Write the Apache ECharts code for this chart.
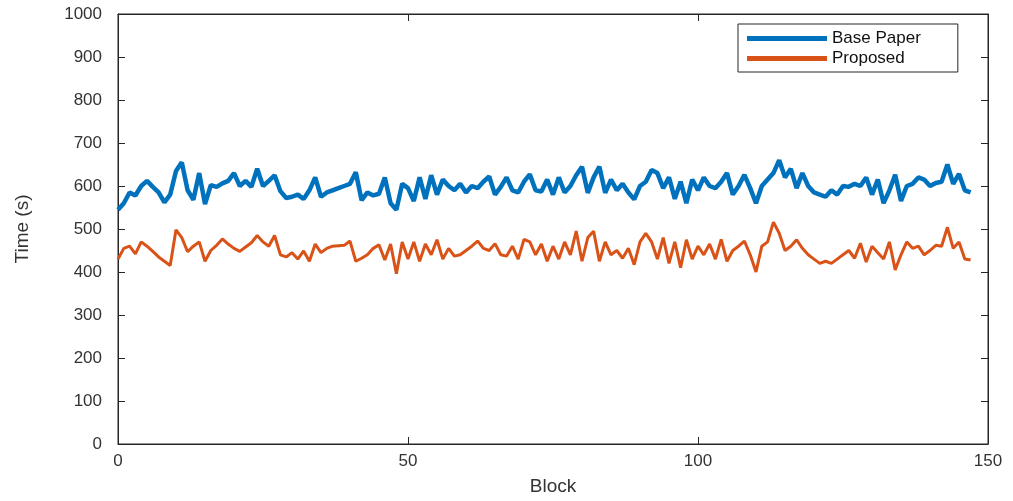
<!DOCTYPE html>
<html><head><meta charset="utf-8">
<script src="https://cdn.jsdelivr.net/npm/echarts@6/dist/echarts.min.js"></script>
<style>html,body{margin:0;padding:0;background:#fff}#c{width:1013px;height:501px}</style>
</head><body><div id="c"></div>
<script>
const blocks = Array.from({length:148},(_, i)=>i);
const basePaper = [545,560,585,578,600,612,598,585,562,580,635,655,590,568,630,558,602,598,606,612,
630,600,612,598,640,600,612,625,588,572,575,580,570,590,620,575,585,590,595,600,
605,632,567,585,578,582,620,560,545,605,595,565,620,570,625,580,615,600,590,605,
585,600,595,610,622,580,598,620,590,585,610,627,590,587,615,580,620,585,600,625,
645,584,620,645,584,615,590,605,585,569,600,610,637,630,595,620,570,610,560,615,
590,620,600,595,610,630,580,600,626,595,560,600,615,630,660,620,640,595,630,600,
585,580,575,590,580,600,598,605,600,620,580,615,560,590,626,565,600,605,620,615,
600,607,610,650,605,628,590,585];
const proposed = [430,455,460,442,470,460,448,435,425,415,498,480,447,460,470,425,450,462,477,465,
455,448,458,468,485,470,460,485,440,435,445,430,449,425,465,445,455,460,461,462,
472,425,432,440,455,463,428,465,396,470,430,470,425,465,440,475,430,455,437,440,
450,460,472,455,450,466,440,437,460,430,476,470,440,465,425,460,430,470,440,495,
425,480,495,425,470,440,450,432,455,417,470,490,470,430,480,420,470,410,475,430,
460,440,465,430,476,425,450,460,472,440,400,460,470,516,490,450,460,475,455,440,
430,420,425,420,430,440,450,432,467,423,460,445,430,470,405,440,470,455,460,440,
450,462,460,504,455,470,430,428];
const seriesNames = ['Base Paper','Proposed'];
const xTicks = {min:0,max:150,interval:50};
const yTicks = {min:0,max:1000,interval:100};

const font = 'Liberation Sans, Arial, sans-serif';
function axisLine(){return {show:true,onZero:false,lineStyle:{color:'#262626',width:1}};}
function tick(){return {show:true,inside:true,length:7,lineStyle:{color:'#262626',width:1}};}
function lbl(m){return {show:true,margin:m,color:'#333',fontSize:17,fontFamily:font,formatter:v=>String(v)};}
const chart = echarts.init(document.getElementById('c'));
chart.setOption({
  animation:false,
  backgroundColor:'#fff',
  grid:{left:118,right:25,top:14,bottom:47,containLabel:false,show:true,borderColor:'#262626',borderWidth:1},
  legend:{
    orient:'vertical',left:738,top:24,
    data:seriesNames,itemWidth:80,itemHeight:5,itemGap:3,
    borderColor:'#262626',borderWidth:1,padding:[6,37,5,9],
    textStyle:{fontSize:17,fontFamily:font,color:'#111'},
    icon:'rect'
  },
  xAxis:[{type:'value',min:xTicks.min,max:xTicks.max,interval:xTicks.interval,
    name:'Block',nameLocation:'middle',nameGap:33,nameTextStyle:{fontSize:19,fontFamily:font,color:'#333'},
    axisLine:axisLine(),axisTick:tick(),axisLabel:lbl(9),splitLine:{show:false}},
    {type:'value',position:'top',min:xTicks.min,max:xTicks.max,interval:xTicks.interval,
    axisLine:axisLine(),axisTick:tick(),axisLabel:{show:false},splitLine:{show:false}}],
  yAxis:[{type:'value',min:yTicks.min,max:yTicks.max,interval:yTicks.interval,
    name:'Time (s)',nameLocation:'middle',nameGap:86,nameTextStyle:{fontSize:19,fontFamily:font,color:'#333'},
    axisLine:axisLine(),axisTick:tick(),axisLabel:lbl(16),splitLine:{show:false}},
    {type:'value',position:'right',min:yTicks.min,max:yTicks.max,interval:yTicks.interval,
    axisLine:axisLine(),axisTick:tick(),axisLabel:{show:false},splitLine:{show:false}}],
  series:[
    {name:seriesNames[0],type:'line',showSymbol:false,symbol:'none',
     data:blocks.map((b,i)=>[b,basePaper[i]]),
     lineStyle:{color:'#0072BD',width:4.5},itemStyle:{color:'#0072BD'}},
    {name:seriesNames[1],type:'line',showSymbol:false,symbol:'none',
     data:blocks.map((b,i)=>[b,proposed[i]]),
     lineStyle:{color:'#D95319',width:3},itemStyle:{color:'#D95319'}},
    {name:'_axes',type:'line',xAxisIndex:1,yAxisIndex:1,data:[],silent:true,showSymbol:false}
  ]
});
</script></body></html>
